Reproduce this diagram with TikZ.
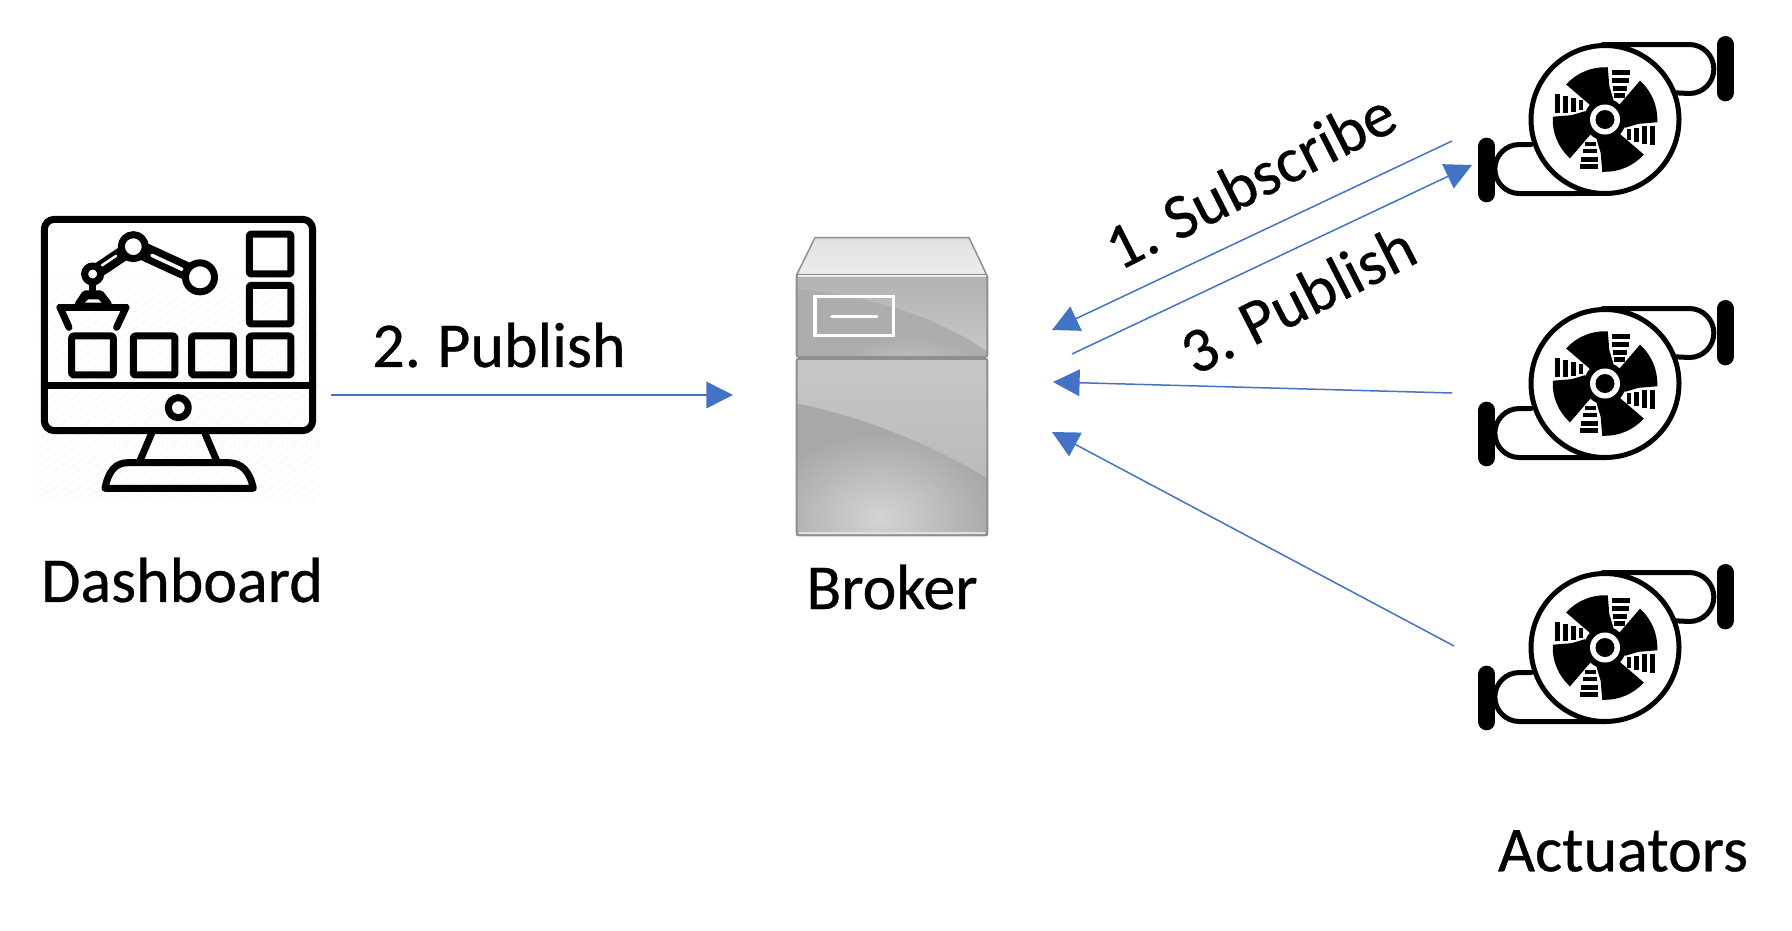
\documentclass[tikz,border=0pt]{standalone}
\usepackage{fontspec}
\setmainfont{Carlito}
\newfontfamily\lblface{Carlito}[FakeBold=0.5,WordSpace=0.8]
\newcommand{\lblfont}{\lblface\fontsize{64}{70}\selectfont}
\usetikzlibrary{arrows.meta}
\definecolor{arrowblue}{HTML}{4472C4}
\definecolor{brokeredge}{HTML}{8F8F8F}
\tikzset{
  flow/.style={draw=arrowblue,line width=1.5pt,-{Triangle[length=26.6pt,width=26.6pt]}},
  lbl/.style={font=\lblfont,text=black,inner sep=0pt},
  icon/.style={draw=black,line width=7pt,line join=round,line cap=round},
  crate/.style={icon,rounded corners=2pt},
  housing/.style={draw=black,line width=5pt,line cap=round,line join=round},
  watermark/.style={draw=white!96!black,line width=1pt,dash pattern=on 3pt off 2pt},
}
\newcommand{\actuatoricon}[1]{%
  \begin{scope}[shift={(#1)},x=0.3333pt,y=0.3333pt]
    \draw[housing] (-7,225) -- (253,225) arc[start angle=90,end angle=-90,radius=24.5pt] -- (213,80);
    \draw[housing] (-222,-75) -- (-257,-75) arc[start angle=90,end angle=270,radius=24.5pt] -- (3,-222);
    \draw[draw=black,fill=white,line width=5pt] (0,0) circle[radius=74pt];
    \draw[black,line width=17pt,line cap=round] (361,225) -- (361,80);
    \draw[black,line width=17pt,line cap=round] (-355,-80) -- (-355,-223);
    \fill[black] (0,0) circle[radius=21pt];
    \foreach \a in {0,-90,-180,-270}{
      \begin{scope}[rotate=\a]
        \fill[black] (-35,35) -- (25,60) -- (13,100) -- (87:157) arc[start angle=87,end angle=138,radius=52.3pt] -- cycle;
        \fill[black] (20,134) rectangle (76,149);
        \fill[black] (20,111) rectangle (72,126);
        \fill[black] (24,87) rectangle (66,101);
        \fill[black] (28,66) rectangle (60,79);
      \end{scope}
    }
    \fill[white] (0,0) circle[radius=15pt];
    \fill[black] (0,0) circle[radius=9.5pt];
  \end{scope}}
\begin{document}
\begin{tikzpicture}[x=1pt,y=-1pt]
\useasboundingbox (0,0) rectangle (1792,930);

% Faint hatching behind the dashboard icon
\begin{scope}
  \clip (38,215) rectangle (320,500);
  \foreach \k in {0,12,...,560}{
    \draw[watermark] (20+\k,510) -- (\k+350,275);
    \draw[watermark] (\k-300,510) -- (\k+30,275);
  }
\end{scope}

% Dashboard icon
\begin{scope}[shift={(0,180)},x=0.3333pt,y=-0.3333pt]
  \draw[icon,rounded corners=10pt] (133,118) rectangle (938,752);
  \draw[icon] (133,618) -- (938,618);
  \draw[icon] (535,683) circle[radius=10pt];
  \draw[icon] (455,760) -- (420,842);
  \draw[icon] (615,760) -- (650,842);
  \draw[icon] (315,925) .. controls (325,875) and (345,848) .. (385,848) -- (685,848)
     .. controls (725,848) and (750,875) .. (760,925) -- cycle;
  \foreach \l/\t/\r/\b in {215/468/340/585,400/468/525/585,575/468/700/585,748/468/873/585,748/162/873/282,748/316/873/432}{
    \draw[crate] (\l,\t) rectangle (\r,\b);
  }
  % robot arm
  \draw[black,line width=15pt,line cap=round] (278,282) -- (400,200);
  \draw[white,line width=2.5pt,line cap=round] (306,256) -- (348,228);
  \draw[black,line width=18pt,line cap=round] (400,200) -- (600,292);
  \draw[white,line width=3.5pt,line cap=round] (456,226) -- (546,268);
  \draw[icon,fill=white] (400,200) circle[radius=12pt];
  \draw[icon,fill=white] (600,292) circle[radius=14.5pt];
  \draw[icon,fill=white] (278,282) circle[radius=8pt];
  \draw[icon] (278,312) -- (278,342);
  \draw[icon] (235,372) -- (255,342) -- (302,342) -- (325,372);
  \fill[black] (235,372) -- (255,342) -- (302,342) -- (325,372) -- cycle;
  \fill[white] (255,368) -- (265,358) -- (295,358) -- (305,368) -- cycle;
  \draw[icon] (180,382) -- (378,382);
  \draw[icon] (180,382) -- (207,442);
  \draw[icon] (378,382) -- (350,442);
\end{scope}

% Broker icon
\begin{scope}[shift={(770,211.5)},x=0.3333pt,y=-0.3333pt]
  \shade[top color=white!88!black,bottom color=white!93!black,draw=brokeredge,line width=1.5pt,line join=round]
    (135,78) -- (597,78) -- (650,190) -- (80,190) -- cycle;
  % upper panel
  \begin{scope}
    \clip[rounded corners=2pt] (80,190) rectangle (652,436);
    \fill[white!68!black] (80,190) rectangle (652,436);
    \shade[top color=white!70!black,bottom color=white!78!black] (80,190) -- (652,190) -- (652,420)
      .. controls (520,330) and (350,260) .. (80,232) -- cycle;
    \shade[inner color=white!80!black,outer color=white!68!black,opacity=0.8] (420,470) ellipse[x radius=70pt,y radius=30pt];
  \end{scope}
  \draw[brokeredge,line width=2pt,rounded corners=2pt] (80,190) rectangle (652,436);
  \draw[white!92!black,line width=1.5pt] (84,194) -- (648,194);
  \draw[white,line width=3.5pt] (135,255) rectangle (370,372);
  \draw[white,line width=3.5pt,line cap=round] (185,315) -- (320,315);
  % lower panel
  \begin{scope}
    \clip[rounded corners=2pt] (80,442) rectangle (652,972);
    \fill[white!66!black] (80,442) rectangle (652,972);
    \shade[inner color=white!83!black,outer color=white!66!black] (330,920) ellipse[x radius=115pt,y radius=85pt];
    \shade[top color=white!78!black,bottom color=white!73!black] (80,442) -- (652,442) -- (652,800)
      .. controls (520,720) and (320,625) .. (80,575) -- cycle;
  \end{scope}
  \draw[brokeredge,line width=2pt,rounded corners=2pt] (80,442) rectangle (652,972);
  \draw[white!88!black,line width=1.5pt] (86,964) -- (646,964);
\end{scope}

% Actuator icons
\actuatoricon{1605,119.5}
\actuatoricon{1605,383.5}
\actuatoricon{1605,647.5}

% Labels
\node[lbl] (dashboard) at (182,580) {Dashboard};
\node[lbl] (broker) at (892,587) {Broker};
\node[lbl] (actuators) at (1623,851) {Actuators};
\node[lbl] (publish2) at (499,345) {2. Publish};
\node[lbl,rotate=27] (subscribe) at (1250,180) {1. Subscribe};
\node[lbl,rotate=27] (publish3) at (1298,299) {3. Publish};

% Connector ends
\coordinate (dashout) at (331,395);
\coordinate (brokerin) at (733,395);
\coordinate (act1out) at (1452,141);
\coordinate (brokerin1) at (1052,330);
\coordinate (brokerout) at (1072,354);
\coordinate (act1in) at (1472,165);
\coordinate (act2out) at (1452,393);
\coordinate (brokerin2) at (1053,382);
\coordinate (act3out) at (1454,646);
\coordinate (brokerin3) at (1052,432);

\draw[flow] (dashout) -- (brokerin);
\draw[flow] (act1out) -- (brokerin1);
\draw[flow] (brokerout) -- (act1in);
\draw[flow] (act2out) -- (brokerin2);
\draw[flow] (act3out) -- (brokerin3);
\end{tikzpicture}
\end{document}
